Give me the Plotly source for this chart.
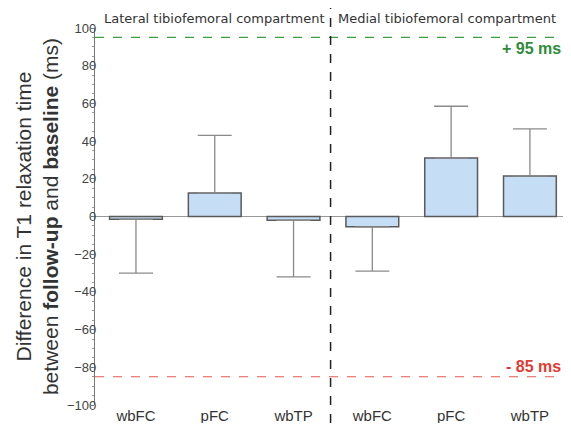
import plotly.graph_objects as go

categories = ["wbFC", "pFC", "wbTP", "wbFC ", "pFC ", "wbTP "]
tick_labels = ["wbFC", "pFC", "wbTP", "wbFC", "pFC", "wbTP"]
mean_diff = [-1.5, 12.5, -2.0, -5.5, 31.0, 21.5]
sd_diff = [28.5, 30.5, 30.0, 23.5, 27.5, 25.0]
upper_limit = 95
lower_limit = -85

x_idx = list(range(len(categories)))
err_plus = [s if m >= 0 else 0 for m, s in zip(mean_diff, sd_diff)]
err_minus = [s if m < 0 else 0 for m, s in zip(mean_diff, sd_diff)]

fig = go.Figure()
fig.add_trace(go.Bar(
    x=x_idx, y=mean_diff, width=0.67,
    marker=dict(color="#c6def5", line=dict(color="#5a5a5a", width=1.5)),
    error_y=dict(type="data", symmetric=False, array=err_plus, arrayminus=err_minus,
                 color="#8a8a8a", thickness=1.3, width=17),
    showlegend=False,
))

fig.add_hline(y=upper_limit, line=dict(color="#3aa040", width=1.2, dash="dash"))
fig.add_hline(y=lower_limit, line=dict(color="#e8584f", width=1.2, dash="dash"))
fig.add_shape(type="line", xref="x", yref="paper", x0=2.47, x1=2.47, y0=-0.048, y1=1.053,
              line=dict(color="#222", width=1.5, dash="dash"))

fig.add_annotation(x=1, xref="x", y=1.0, yref="paper", yanchor="bottom",
                   text="Lateral tibiofemoral compartment", showarrow=False,
                   font=dict(size=13, color="#333", family="DejaVu Sans, sans-serif"))
fig.add_annotation(x=3.95, xref="x", y=1.0, yref="paper", yanchor="bottom",
                   text="Medial tibiofemoral compartment", showarrow=False,
                   font=dict(size=13, color="#333", family="DejaVu Sans, sans-serif"))
fig.add_annotation(x=1, xref="paper", xanchor="right", y=upper_limit, yref="y", yanchor="top",
                   yshift=-1, text="<b>+ 95 ms</b>", showarrow=False,
                   font=dict(size=16, color="#2e8b3a"))
fig.add_annotation(x=1, xref="paper", xanchor="right", y=lower_limit, yref="y", yanchor="bottom",
                   yshift=0, text="<b>- 85 ms</b>", showarrow=False,
                   font=dict(size=16, color="#e23b33"))

fig.update_layout(
    width=555, height=415,
    margin=dict(l=87, r=0, t=20, b=18),
    paper_bgcolor="white", plot_bgcolor="white",
    font=dict(family="Liberation Sans, Arial, sans-serif", color="#333"),
    xaxis=dict(range=[-0.52, 5.42], tickvals=x_idx, ticktext=tick_labels,
               showline=False, showgrid=False, zeroline=False, ticks="",
               tickfont=dict(size=15, color="#333")),
    yaxis=dict(range=[-100, 100], tickvals=list(range(-100, 101, 20)),
               showline=True, linecolor="#777", linewidth=1.2,
               ticks="outside", ticklen=3, tickcolor="#777",
               ticklabelstandoff=-8,
               minor=dict(dtick=5, ticks="outside", ticklen=2, tickcolor="#999"),
               showgrid=False, zeroline=True, zerolinecolor="#999", zerolinewidth=1.2,
               tickfont=dict(size=13, color="#444"),
               title=dict(text="Difference in T1 relaxation time<br>between <b>follow-up</b> and <b>baseline</b> (ms)",
                          font=dict(size=21, color="#333"), standoff=2)),
)

fig.write_html("out.html")
